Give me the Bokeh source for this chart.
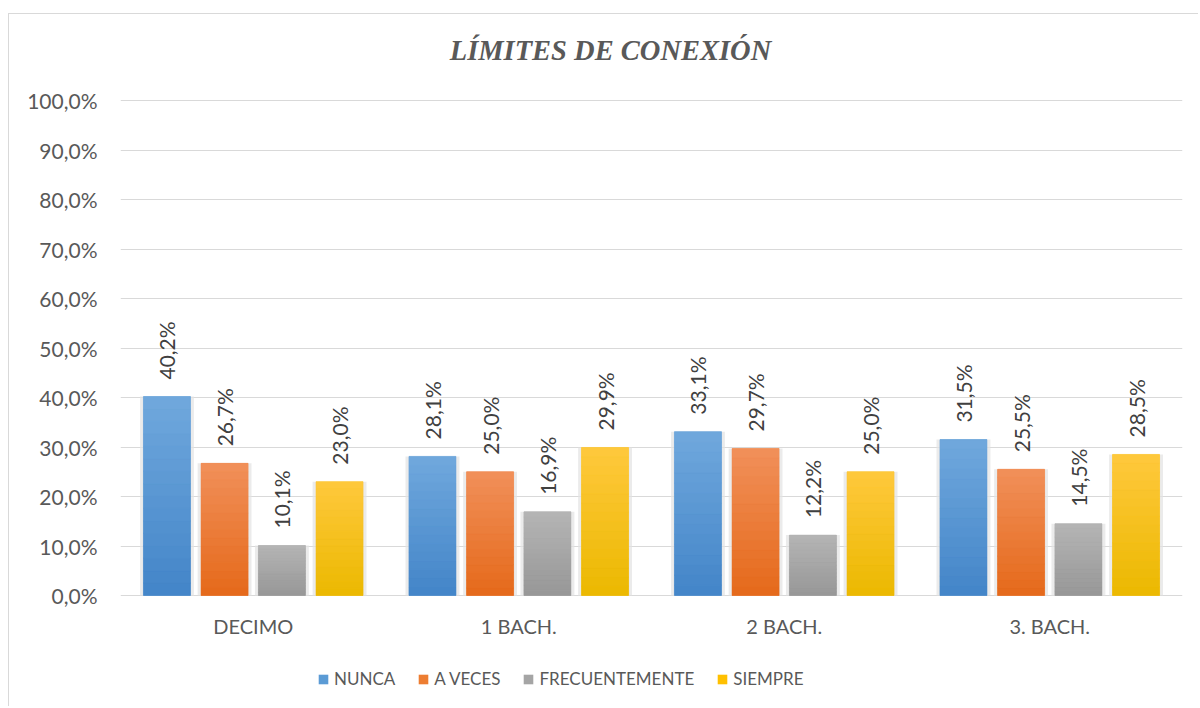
from bokeh.plotting import figure
from bokeh.models import FactorRange, Range1d, Legend, LegendItem, Label, ColumnDataSource, FixedTicker, CustomJSTickFormatter
from bokeh.transform import dodge
from bokeh.embed import file_html
from bokeh.resources import INLINE
from bokeh.core.properties import value
import math

categories = ["DECIMO", "1 BACH.", "2 BACH.", "3. BACH."]
series_names = ["NUNCA", "A VECES", "FRECUENTEMENTE", "SIEMPRE"]
nunca = [0.402, 0.281, 0.331, 0.315]
a_veces = [0.267, 0.250, 0.297, 0.255]
frecuentemente = [0.101, 0.169, 0.122, 0.145]
siempre = [0.230, 0.299, 0.250, 0.285]
y_ticks = [0.0, 0.1, 0.2, 0.3, 0.4, 0.5, 0.6, 0.7, 0.8, 0.9, 1.0]
title_text = "LÍMITES DE CONEXIÓN"

colors = ["#5b9bd5", "#ed7d31", "#a5a5a5", "#ffc000"]
top_colors = ["#70a8dd", "#f1905a", "#b5b5b5", "#ffc93d"]
bottom_colors = ["#4385c8", "#e5691a", "#979797", "#ebb800"]
series_values = [nunca, a_veces, frecuentemente, siempre]
offsets = [-0.325, -0.108, 0.108, 0.325]
bar_w = 0.177
N_SEG = 16

FONT = "Lato"
TXT = "#595959"


def mix(c1, c2, t):
    a = [int(c1[i:i + 2], 16) for i in (1, 3, 5)]
    b = [int(c2[i:i + 2], 16) for i in (1, 3, 5)]
    return "#%02x%02x%02x" % tuple(round(a[j] + (b[j] - a[j]) * t) for j in range(3))


# frame covers the whole canvas height; the 0-100% band sits at page y 100..595
p = figure(x_range=FactorRange(*categories, range_padding=0),
           y_range=Range1d(start=-111 / 495, end=1 + 86 / 495),
           width=1190, height=693, output_backend="svg", toolbar_location=None,
           min_border_left=111, min_border_right=17, min_border_top=0, min_border_bottom=1,
           styles={"margin-left": "8px", "margin-top": "13px",
                   "border-left": "1px solid #d9d9d9", "border-top": "1px solid #d9d9d9"})
p.outline_line_color = None
p.background_fill_color = "white"
p.border_fill_color = "white"
p.xaxis.visible = False

p.xgrid.grid_line_color = None
p.ygrid.grid_line_color = "#d9d9d9"
p.ygrid.grid_line_width = 1
p.yaxis.ticker = FixedTicker(ticks=y_ticks)
p.yaxis.formatter = CustomJSTickFormatter(code="return (tick*100).toFixed(1).replace('.', ',') + '%';")
p.yaxis.axis_line_color = None
p.yaxis.major_tick_line_color = None
p.yaxis.minor_tick_line_color = None
p.yaxis.major_tick_out = 0
p.yaxis.major_label_standoff = 23
p.yaxis.major_label_text_font = FONT
p.yaxis.major_label_text_font_size = "21px"
p.yaxis.major_label_text_color = TXT

# category labels under the baseline
cat_src = ColumnDataSource(dict(cat=categories, base=[0.0] * len(categories)))
p.text(x="cat", y="base", text="cat", source=cat_src, text_align="center", text_baseline="top",
       y_offset=18, text_font=value(FONT), text_font_size="20px", text_color=TXT)

items = []
for name, vals, col, tc, bc, off in zip(series_names, series_values, colors, top_colors,
                                        bottom_colors, offsets):
    src = ColumnDataSource(dict(cat=categories, val=vals,
                                lab=[("%.1f%%" % (v * 100)).replace(".", ",") for v in vals]))
    # soft glow behind each bar
    p.vbar(x=dodge("cat", off, range=p.x_range), top="val", width=bar_w + 0.026, source=src,
           fill_color="#e3e3e3", fill_alpha=0.7, line_color=None)
    r = p.vbar(x=dodge("cat", off, range=p.x_range), top="val", width=bar_w, source=src,
               fill_color=col, line_color=None)
    # vertical gradient overlay (lighter at the top, darker at the bottom)
    g = dict(cat=[], bottom=[], top=[], color=[])
    for c, v in zip(categories, vals):
        for k in range(N_SEG):
            g["cat"].append(c)
            g["bottom"].append(v * k / N_SEG)
            g["top"].append(v * (k + 1) / N_SEG)
            g["color"].append(mix(bc, tc, (k + 0.5) / N_SEG))
    p.vbar(x=dodge("cat", off, range=p.x_range), bottom="bottom", top="top", width=bar_w,
           source=ColumnDataSource(g), fill_color="color", line_color="color", line_width=0.6)
    p.text(x=dodge("cat", off, range=p.x_range), y="val", text="lab", source=src,
           angle=math.pi / 2, text_align="left", text_baseline="middle", y_offset=-17,
           text_font=value(FONT), text_font_size="21px", text_color="#404040")
    items.append(LegendItem(label=name, renderers=[r]))

legend = Legend(items=items, orientation="horizontal", location=(197, 17),
                padding=0, margin=0, spacing=22, label_standoff=5,
                glyph_width=12, glyph_height=12, label_height=20,
                label_text_font=FONT, label_text_font_size="17px", label_text_color=TXT,
                border_line_color=None, background_fill_alpha=0)
p.add_layout(legend, "center")

title = Label(x=490, y=656, x_units="screen", y_units="screen", text=title_text,
              text_align="center", text_baseline="alphabetic",
              text_font="Liberation Serif", text_font_style="bold italic",
              text_font_size="28.5px", text_color=TXT)
p.add_layout(title)

open("out.html", "w").write(file_html(p, INLINE))
